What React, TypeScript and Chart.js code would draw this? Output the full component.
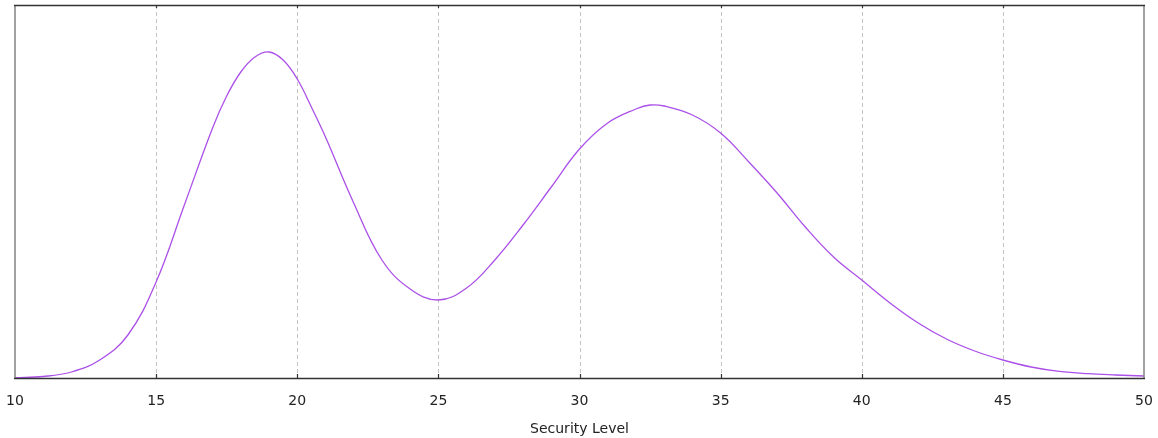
import React, { useEffect, useRef } from "react";
import { Chart, registerables } from "chart.js";

Chart.register(...registerables);

const securityLevels = [10, 11, 12, 13, 14, 15, 16, 17, 17.5, 18, 18.5, 19, 19.5, 20, 20.5, 21, 22, 23, 24, 25, 26, 27, 28, 29, 30, 31, 32, 32.5, 33, 34, 35, 36, 37, 38, 39, 40, 41, 42, 43, 44, 45, 46, 47, 48, 49, 50];
const densityValues = [0.3, 1.5, 6, 18, 43, 96, 173, 250, 282, 306, 321, 326, 318, 299, 271, 241, 175, 118, 89, 78, 90, 118, 153, 191, 229, 255, 269, 273, 272, 263, 245, 216, 185, 151, 121, 98, 75, 55, 39, 27, 18, 11, 6.6, 4.3, 3, 2];
const xTickValues = [10, 15, 20, 25, 30, 35, 40, 45, 50];
const xTitle = "Security Level";

const FONT = "'DejaVu Sans', sans-serif";

const framePlugin = {
  id: "frame",
  beforeDatasetsDraw(chart: any) {
    const { ctx, chartArea } = chart;
    const xs = chart.scales.x;
    ctx.save();
    ctx.strokeStyle = "#c4c4c4";
    ctx.lineWidth = 1;
    ctx.setLineDash([4, 3]);
    for (const v of xTickValues) {
      if (v === xTickValues[0] || v === xTickValues[xTickValues.length - 1]) continue;
      const px = Math.round(xs.getPixelForValue(v)) + 0.5;
      ctx.beginPath();
      ctx.moveTo(px, chartArea.top);
      ctx.lineTo(px, chartArea.bottom);
      ctx.stroke();
    }
    ctx.restore();
  },
  afterDatasetsDraw(chart: any) {
    const { ctx, chartArea } = chart;
    const xs = chart.scales.x;
    const { left, right, top, bottom } = chartArea;
    ctx.save();
    ctx.setLineDash([]);
    ctx.strokeStyle = "#8a8a8a";
    ctx.lineWidth = 1.6;
    ctx.beginPath();
    ctx.moveTo(left, top);
    ctx.lineTo(left, bottom);
    ctx.moveTo(right, top);
    ctx.lineTo(right, bottom);
    ctx.stroke();
    ctx.strokeStyle = "#333333";
    ctx.lineWidth = 1.4;
    ctx.beginPath();
    ctx.moveTo(left - 1, top + 0.5);
    ctx.lineTo(right + 1, top + 0.5);
    ctx.moveTo(left - 1, bottom + 0.5);
    ctx.lineTo(right + 1, bottom + 0.5);
    ctx.stroke();
    ctx.lineWidth = 1.2;
    ctx.beginPath();
    for (const v of xTickValues) {
      if (v === xTickValues[0] || v === xTickValues[xTickValues.length - 1]) continue;
      const px = Math.round(xs.getPixelForValue(v)) + 0.5;
      ctx.moveTo(px, bottom);
      ctx.lineTo(px, bottom - 4);
      ctx.moveTo(px, top);
      ctx.lineTo(px, top + 3);
    }
    ctx.stroke();
    ctx.restore();
  },
};

export default function App() {
  const canvasRef = useRef<HTMLCanvasElement | null>(null);

  useEffect(() => {
    document.body.style.margin = "0";
    const canvas = canvasRef.current;
    if (!canvas) return;
    const chart = new Chart(canvas, {
      type: "line",
      data: {
        datasets: [
          {
            data: securityLevels.map((x, i) => ({ x, y: densityValues[i] })),
            borderColor: "#ab50e8",
            borderWidth: 1.3,
            pointRadius: 0,
            fill: false,
            tension: 0.4,
          },
        ],
      },
      options: {
        animation: false,
        responsive: true,
        maintainAspectRatio: false,
        layout: { padding: { left: 15, right: 14, top: 5, bottom: 0 } },
        plugins: {
          legend: { display: false },
          tooltip: { enabled: false },
        },
        scales: {
          x: {
            type: "linear",
            min: 10,
            max: 50,
            afterFit: (s: any) => {
              s.height = 60;
              s.paddingLeft = 0;
              s.paddingRight = 0;
            },
            afterBuildTicks: (s: any) => {
              s.ticks = xTickValues.map((v) => ({ value: v }));
            },
            ticks: {
              padding: 15,
              color: "#222222",
              font: { family: FONT, size: 14 },
              maxRotation: 0,
              autoSkip: false,
            },
            grid: { display: false, drawTicks: false },
            border: { display: false },
            title: {
              display: true,
              text: xTitle,
              color: "#222222",
              font: { family: FONT, size: 14 },
              padding: { top: 0, bottom: 0 },
            },
          },
          y: {
            display: false,
            min: 0,
            max: 373,
          },
        },
      },
      plugins: [framePlugin],
    });
    return () => chart.destroy();
  }, []);

  return (
    <div style={{ position: "fixed", left: 0, top: 0, width: 1158, height: 438, background: "#fff" }}>
      <canvas ref={canvasRef} />
    </div>
  );
}
